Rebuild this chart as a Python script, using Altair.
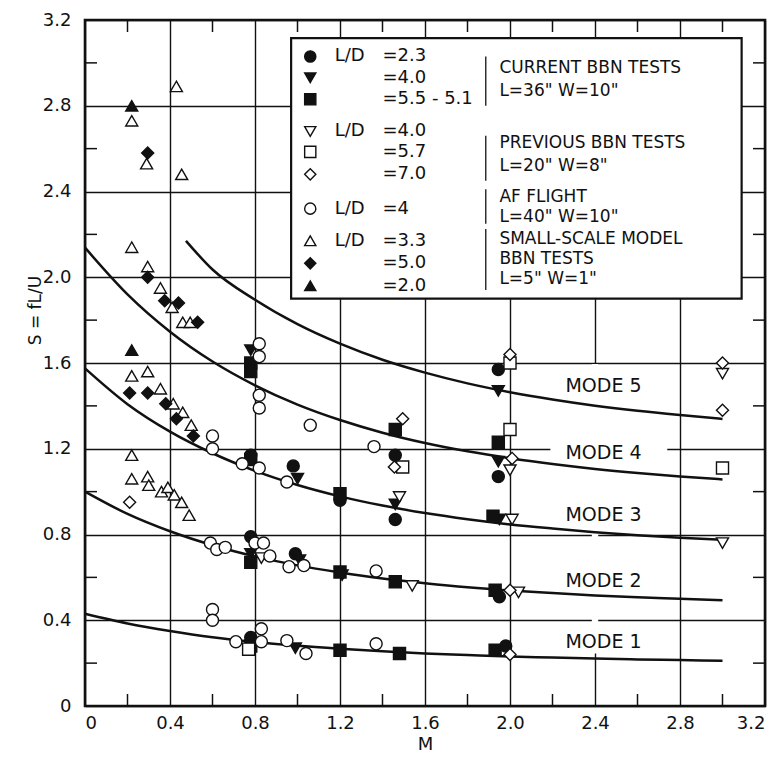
import altair as alt
import pandas as pd

# ---------------- axis values ----------------
major_ticks = [0, 0.4, 0.8, 1.2, 1.6, 2.0, 2.4, 2.8, 3.2]
minor_ticks = [0.2, 0.6, 1.0, 1.4, 1.8, 2.2, 2.6, 3.0]

# ---------------- mode curves ----------------
curve_M = [0.0, 0.2, 0.4, 0.6, 0.8, 1.0, 1.2, 1.4, 1.6, 1.8, 2.0, 2.2, 2.4, 2.6, 2.8, 3.0]
mode1 = [0.43, 0.385, 0.35, 0.321, 0.299, 0.281, 0.267, 0.255, 0.245, 0.238, 0.231, 0.226, 0.221, 0.217, 0.214, 0.211]
mode2 = [1.0, 0.896, 0.815, 0.75, 0.698, 0.656, 0.623, 0.595, 0.573, 0.554, 0.539, 0.527, 0.516, 0.507, 0.5, 0.493]
mode3 = [1.575, 1.408, 1.28, 1.179, 1.097, 1.031, 0.978, 0.935, 0.9, 0.871, 0.847, 0.828, 0.811, 0.797, 0.785, 0.775]
mode4 = [2.138, 1.92, 1.746, 1.607, 1.496, 1.406, 1.334, 1.275, 1.227, 1.188, 1.156, 1.129, 1.106, 1.087, 1.071, 1.057]
mode5_M = [0.475, 0.6, 0.8, 1.0, 1.2, 1.4, 1.6, 1.8, 2.0, 2.2, 2.4, 2.6, 2.8, 3.0]
mode5 = [2.17, 2.036, 1.895, 1.781, 1.69, 1.615, 1.555, 1.505, 1.464, 1.43, 1.401, 1.377, 1.357, 1.339]
mode_names = ["MODE 1", "MODE 2", "MODE 3", "MODE 4", "MODE 5"]
mode_label_M = [2.44, 2.44, 2.44, 2.44, 2.44]
mode_label_S = [0.30, 0.585, 0.893, 1.18, 1.495]

# ---------------- measured points ----------------
series_keys = ["cur23", "cur40", "cur55", "prev40", "prev57", "prev70", "af", "ss33", "ss50", "ss20"]
series_shapes = ["circle", "triangle-down", "square", "triangle-down", "square", "diamond",
                 "circle", "triangle-up", "diamond", "triangle-up"]
series_fills = ["#111", "#111", "#111", "white", "white", "white", "white", "white", "#111", "#111"]

cur23_M = [0.78, 0.99, 1.95, 0.78, 0.98, 1.20, 1.46, 1.46, 1.945, 1.945, 1.98, 0.78]
cur23_S = [0.79, 0.71, 0.51, 1.17, 1.12, 0.96, 0.87, 1.17, 1.07, 1.57, 0.28, 0.32]
cur40_M = [0.78, 1.945, 1.945, 1.00, 1.46, 1.95, 0.78, 1.01, 1.21, 0.99]
cur40_S = [1.66, 1.47, 1.14, 1.06, 0.94, 0.87, 0.71, 0.68, 0.61, 0.27]
cur55_M = [0.78, 0.78, 1.46, 1.945, 0.78, 1.20, 1.92, 0.78, 1.20, 1.46, 1.93, 0.78, 1.20, 1.48, 1.93]
cur55_S = [1.60, 1.56, 1.29, 1.23, 1.15, 0.99, 0.885, 0.67, 0.625, 0.58, 0.54, 0.28, 0.26, 0.245, 0.26]
prev40_M = [0.83, 1.54, 1.48, 2.00, 2.01, 2.04, 3.00, 3.00]
prev40_S = [0.69, 0.56, 0.975, 1.10, 0.87, 0.53, 1.55, 0.76]
prev57_M = [0.77, 1.495, 2.00, 2.00, 3.00]
prev57_S = [0.265, 1.115, 1.60, 1.29, 1.11]
prev70_M = [0.21, 1.495, 1.456, 2.00, 2.01, 2.00, 2.00, 3.00, 3.00]
prev70_S = [0.95, 1.34, 1.115, 1.64, 1.155, 0.54, 0.24, 1.60, 1.38]
af_M = [0.60, 0.60, 0.60, 0.60, 0.59, 0.62, 0.66, 0.71, 0.83, 0.83, 0.95, 1.04, 1.37, 0.80, 0.84,
        0.87, 0.96, 1.03, 1.37, 0.74, 0.82, 0.95, 1.36, 0.82, 0.82, 1.06, 0.82, 0.82]
af_S = [1.26, 1.20, 0.45, 0.40, 0.76, 0.73, 0.74, 0.30, 0.36, 0.30, 0.305, 0.245, 0.29, 0.76, 0.76,
        0.70, 0.65, 0.655, 0.63, 1.13, 1.11, 1.045, 1.21, 1.45, 1.39, 1.31, 1.69, 1.63]
ss33_M = [0.22, 0.29, 0.43, 0.455, 0.22, 0.295, 0.355, 0.41, 0.46, 0.495, 0.22, 0.295, 0.355, 0.415,
          0.46, 0.50, 0.22, 0.22, 0.295, 0.30, 0.36, 0.39, 0.42, 0.455, 0.49]
ss33_S = [2.73, 2.53, 2.89, 2.48, 2.14, 2.05, 1.95, 1.86, 1.79, 1.79, 1.54, 1.56, 1.48, 1.41,
          1.37, 1.31, 1.17, 1.06, 1.07, 1.03, 1.00, 1.02, 0.985, 0.95, 0.89]
ss50_M = [0.295, 0.295, 0.375, 0.44, 0.53, 0.21, 0.295, 0.38, 0.43, 0.51]
ss50_S = [2.58, 2.00, 1.89, 1.88, 1.79, 1.46, 1.46, 1.41, 1.34, 1.26]
ss20_M = [0.22, 0.22]
ss20_S = [2.80, 1.66]

# ---------------- legend text ----------------
legend_ld = ["L/D", "", "", "L/D", "", "", "L/D", "L/D", "", ""]
legend_vals = ["=2.3", "=4.0", "=5.5 - 5.1", "=4.0", "=5.7", "=7.0", "=4", "=3.3", "=5.0", "=2.0"]
group_lines = ["CURRENT BBN TESTS", 'L=36"  W=10"',
               "PREVIOUS BBN TESTS", 'L=20"  W=8"',
               "AF FLIGHT", 'L=40"  W=10"',
               "SMALL-SCALE MODEL", "BBN TESTS", 'L=5"  W=1"']

# ---------------- layout (annotation placement, data units) ----------------
legend_box = dict(x=0.97, x2=3.09, y=1.90, y2=3.115)
legend_row_S = [3.03, 2.93, 2.83, 2.68, 2.585, 2.48, 2.32, 2.17, 2.065, 1.96]
legend_sym_M, legend_ld_M, legend_val_M = 1.06, 1.175, 1.40
group_text_M = 1.95
group_text_S = [2.977, 2.87, 2.625, 2.52, 2.375, 2.28, 2.18, 2.085, 1.99]
brace_M = 1.886
brace_top = [3.03, 2.66, 2.41, 2.225]
brace_bot = [2.80, 2.45, 2.25, 1.94]
erase_boxes = pd.DataFrame({"x": [2.19, 2.385], "x2": [2.74, 2.415], "y": [1.175, 0.245], "y2": [1.225, 1.595]})

FONT = "DejaVu Sans"
W, H = 680, 686
INK = "#111"

xs = alt.Scale(domain=[0, 3.2], nice=False, zero=False)
ys = alt.Scale(domain=[0, 3.2], nice=False, zero=False)
lab = "datum.value == 0 ? '0' : format(datum.value, '.1f')"
xaxis = alt.Axis(values=major_ticks, grid=True, gridColor=INK, gridWidth=1.4, ticks=False, domain=False,
                 labelExpr=lab, labelFont=FONT, labelFontSize=18, labelColor=INK, labelPadding=8,
                 title="M", titleFont=FONT, titleFontSize=18, titleFontWeight="normal", titleColor=INK,
                 titlePadding=3)
yaxis = alt.Axis(values=major_ticks, grid=True, gridColor=INK, gridWidth=1.4, ticks=False, domain=False,
                 labelExpr=lab, labelFont=FONT, labelFontSize=18, labelColor=INK, labelPadding=14,
                 title="S = fL/U", titleFont=FONT, titleFontSize=17, titleFontWeight="normal",
                 titleColor=INK, titleX=-50, titleY=290, titleAlign="center", titleBaseline="middle")

def X(f):
    return alt.X(f, type="quantitative", scale=xs, axis=xaxis)

def Y(f):
    return alt.Y(f, type="quantitative", scale=ys, axis=yaxis)

# data frames
curves = pd.concat([
    pd.DataFrame({"M": curve_M, "S": mode1, "mode": "1"}),
    pd.DataFrame({"M": curve_M, "S": mode2, "mode": "2"}),
    pd.DataFrame({"M": curve_M, "S": mode3, "mode": "3"}),
    pd.DataFrame({"M": curve_M, "S": mode4, "mode": "4"}),
    pd.DataFrame({"M": mode5_M, "S": mode5, "mode": "5"}),
])
series_data = {
    "cur23": (cur23_M, cur23_S), "cur40": (cur40_M, cur40_S), "cur55": (cur55_M, cur55_S),
    "prev40": (prev40_M, prev40_S), "prev57": (prev57_M, prev57_S), "prev70": (prev70_M, prev70_S),
    "af": (af_M, af_S), "ss33": (ss33_M, ss33_S), "ss50": (ss50_M, ss50_S), "ss20": (ss20_M, ss20_S),
}
pts = pd.concat([pd.DataFrame({"M": m, "S": s, "series": k}) for k, (m, s) in series_data.items()])
leg = pd.DataFrame({"M": [legend_sym_M] * 10, "S": legend_row_S, "series": series_keys,
                    "ld": legend_ld, "val": legend_vals})
grp = pd.DataFrame({"M": [group_text_M] * len(group_lines), "S": group_text_S, "t": group_lines})
braces = pd.DataFrame({"x": [brace_M] * 4, "y": brace_top, "y2": brace_bot})
modes = pd.DataFrame({"M": mode_label_M, "S": mode_label_S, "t": mode_names})
box = pd.DataFrame([legend_box])
minor_df = pd.DataFrame({"v": minor_ticks})

shape_enc = alt.Shape("series:N", scale=alt.Scale(domain=series_keys, range=series_shapes), legend=None)
fill_enc = alt.Fill("series:N", scale=alt.Scale(domain=series_keys, range=series_fills), legend=None)

base_grid = alt.Chart(pd.DataFrame({"M": [0], "S": [0]})).mark_point(opacity=0).encode(x=X("M"), y=Y("S"))

erase = alt.Chart(erase_boxes).mark_rect(fill="white").encode(
    x=X("x"), x2="x2", y=Y("y"), y2="y2")

box_layer = alt.Chart(box).mark_rect(fill="white", stroke=INK, strokeWidth=2.2).encode(
    x=X("x"), x2="x2", y=Y("y"), y2="y2")

tick_style = dict(color=INK, strokeWidth=1.5)
tick_b = alt.Chart(minor_df).mark_rule(**tick_style).encode(x=X("v"), y=alt.value(H), y2=alt.value(H - 12))
tick_t = alt.Chart(minor_df).mark_rule(**tick_style).encode(x=X("v"), y=alt.value(0), y2=alt.value(12))
tick_l = alt.Chart(minor_df).mark_rule(**tick_style).encode(y=Y("v"), x=alt.value(0), x2=alt.value(12))
tick_r = alt.Chart(minor_df).mark_rule(**tick_style).encode(y=Y("v"), x=alt.value(W), x2=alt.value(W - 12))

lines = alt.Chart(curves).mark_line(color=INK, strokeWidth=2.5, interpolate="monotone").encode(
    x=X("M"), y=Y("S"), detail="mode:N")

mode_txt = alt.Chart(modes).mark_text(font=FONT, fontSize=19, color=INK, baseline="middle").encode(
    x=X("M"), y=Y("S"), text="t:N")

points = alt.Chart(pts).mark_point(filled=True, size=145, stroke=INK, strokeWidth=1.4, opacity=1).encode(
    x=X("M"), y=Y("S"), shape=shape_enc, fill=fill_enc)

leg_pts = alt.Chart(leg).mark_point(filled=True, size=125, stroke=INK, strokeWidth=1.4, opacity=1).encode(
    x=X("M"), y=Y("S"), shape=shape_enc, fill=fill_enc)
leg_ld = alt.Chart(leg).mark_text(font=FONT, fontSize=18, color=INK, align="left", baseline="middle",
                                  dx=(legend_ld_M - legend_sym_M) * W / 3.2).encode(
    x=X("M"), y=Y("S"), text="ld:N")
leg_val = alt.Chart(leg).mark_text(font=FONT, fontSize=18, color=INK, align="left", baseline="middle",
                                   dx=(legend_val_M - legend_sym_M) * W / 3.2).encode(
    x=X("M"), y=Y("S"), text="val:N")
grp_txt = alt.Chart(grp).mark_text(font=FONT, fontSize=17, color=INK, align="left", baseline="middle").encode(
    x=X("M"), y=Y("S"), text="t:N")
brace_layer = alt.Chart(braces).mark_rule(color=INK, strokeWidth=1.3).encode(x=X("x"), y=Y("y"), y2="y2")

chart = alt.layer(
    base_grid, erase, box_layer, tick_b, tick_t, tick_l, tick_r, lines, mode_txt, points,
    leg_pts, leg_ld, leg_val, grp_txt, brace_layer
).properties(
    width=W, height=H,
    autosize=alt.AutoSizeParams(type="none"),
    padding={"left": 77, "top": 12, "right": 5, "bottom": 52},
    background="white",
).configure_view(stroke=INK, strokeWidth=2.6)

chart.save("out.html", embed_options={"renderer": "svg", "actions": False})
